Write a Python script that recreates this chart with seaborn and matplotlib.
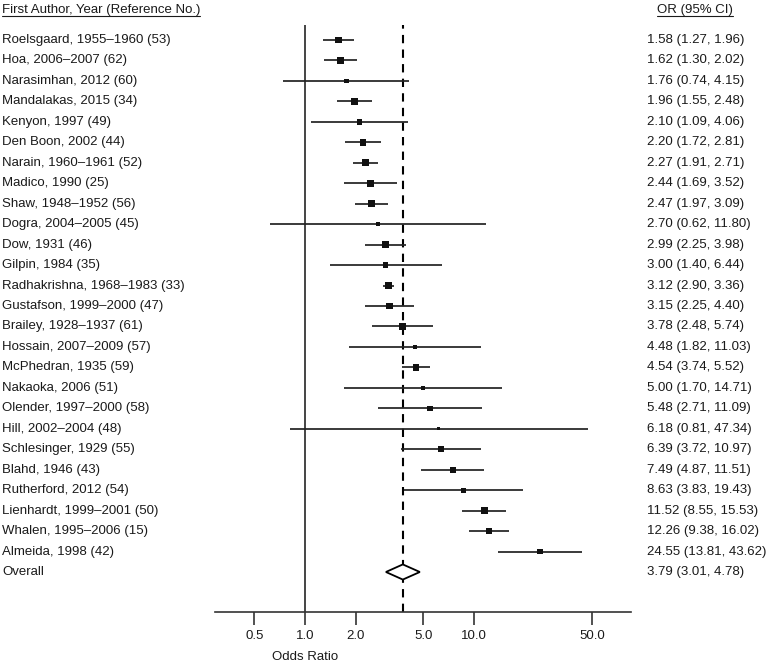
import numpy as np
import pandas as pd
import matplotlib
matplotlib.use("Agg")
import matplotlib.pyplot as plt
import matplotlib.transforms as mtransforms
from matplotlib.lines import Line2D
import seaborn as sns

# study labels, odds ratios and 95% CI bounds
studies = [
    "Roelsgaard, 1955\u20131960 (53)", "Hoa, 2006\u20132007 (62)", "Narasimhan, 2012 (60)",
    "Mandalakas, 2015 (34)", "Kenyon, 1997 (49)", "Den Boon, 2002 (44)",
    "Narain, 1960\u20131961 (52)", "Madico, 1990 (25)", "Shaw, 1948\u20131952 (56)",
    "Dogra, 2004\u20132005 (45)", "Dow, 1931 (46)", "Gilpin, 1984 (35)",
    "Radhakrishna, 1968\u20131983 (33)", "Gustafson, 1999\u20132000 (47)", "Brailey, 1928\u20131937 (61)",
    "Hossain, 2007\u20132009 (57)", "McPhedran, 1935 (59)", "Nakaoka, 2006 (51)",
    "Olender, 1997\u20132000 (58)", "Hill, 2002\u20132004 (48)", "Schlesinger, 1929 (55)",
    "Blahd, 1946 (43)", "Rutherford, 2012 (54)", "Lienhardt, 1999\u20132001 (50)",
    "Whalen, 1995\u20132006 (15)", "Almeida, 1998 (42)",
]
odds = [1.58, 1.62, 1.76, 1.96, 2.10, 2.20, 2.27, 2.44, 2.47, 2.70, 2.99, 3.00, 3.12,
        3.15, 3.78, 4.48, 4.54, 5.00, 5.48, 6.18, 6.39, 7.49, 8.63, 11.52, 12.26, 24.55]
lower = [1.27, 1.30, 0.74, 1.55, 1.09, 1.72, 1.91, 1.69, 1.97, 0.62, 2.25, 1.40, 2.90,
         2.25, 2.48, 1.82, 3.74, 1.70, 2.71, 0.81, 3.72, 4.87, 3.83, 8.55, 9.38, 13.81]
upper = [1.96, 2.02, 4.15, 2.48, 4.06, 2.81, 2.71, 3.52, 3.09, 11.80, 3.98, 6.44, 3.36,
         4.40, 5.74, 11.03, 5.52, 14.71, 11.09, 47.34, 10.97, 11.51, 19.43, 15.53, 16.02, 43.62]
# relative study weight
weights = [6, 6, 4, 6, 5, 6, 6, 6, 6, 3.2, 6, 5, 6.5, 6, 6, 4, 6, 4, 5, 3, 5, 5.5, 4.5, 6, 6, 5]

overall_label = "Overall"
overall = [3.79, 3.01, 4.78]
tick_values = [0.5, 1.0, 2.0, 5.0, 10.0, 50.0]

df = pd.DataFrame({"study": studies, "odds": odds, "lower": lower, "upper": upper, "w": weights})
df["row"] = np.arange(len(df))

sns.set_style("white")
plt.rcParams["font.family"] = ["Liberation Sans", "DejaVu Sans"]
plt.rcParams["font.size"] = 9.5
txt_color = "#1a1a1a"

W, H = 767, 665
fig = plt.figure(figsize=(W / 100, H / 100), dpi=100)
ax = fig.add_axes([215 / W, 1 - 612 / H, (631 - 215) / W, (612 - 25) / H])

# reference lines
ax.axvline(1.0, color="#444444", lw=1.4, zorder=1)
ax.axvline(overall[0], color="black", lw=1.5, ls=(0, (4, 3)), zorder=1)

# confidence intervals and squares
ax.hlines(df["row"], df["lower"], df["upper"], color="#222222", lw=1.25, zorder=2)
sns.scatterplot(data=df, x="odds", y="row", marker="s", s=(df["w"] * 0.8) ** 2,
                color="#111111", edgecolor="none", legend=False, ax=ax, zorder=3)

# pooled estimate diamond
orow = len(df)
half = 0.37
ax.fill([overall[1], overall[0], overall[2], overall[0]],
        [orow, orow - half, orow, orow + half],
        facecolor="white", edgecolor="black", lw=1.3, zorder=3)

ax.set_xscale("log")
ax.set_xlim(0.293, 85)
ax.set_ylim(orow + 1.955, -0.73)
ax.set_xticks(tick_values)
ax.set_xticklabels([f"{v:.1f}" for v in tick_values])
ax.xaxis.set_minor_locator(matplotlib.ticker.NullLocator())
ax.tick_params(axis="x", direction="out", length=9, width=1.2, color="#333333",
               pad=4, labelsize=9.5, labelcolor=txt_color, bottom=True)
ax.set_yticks([])
ax.set_xlabel("")
ax.set_ylabel("")
for side in ["top", "left", "right"]:
    ax.spines[side].set_visible(False)
ax.spines["bottom"].set_color("#333333")
ax.spines["bottom"].set_linewidth(1.2)
ax.set_facecolor("none")

# Odds Ratio label centred under 1.0
ax.text(1.0, 1 - 657 / H, "Odds Ratio",
        transform=mtransforms.blended_transform_factory(ax.transData, fig.transFigure),
        ha="center", va="center", fontsize=9.5, color=txt_color)

# left labels and right OR column
trans = mtransforms.blended_transform_factory(fig.transFigure, ax.transData)
for r, name, o, lo, hi in zip(df["row"], studies, odds, lower, upper):
    ax.text(2 / W, r, name, transform=trans, ha="left", va="center", color=txt_color, clip_on=False)
    ax.text(647 / W, r, f"{o:.2f} ({lo:.2f}, {hi:.2f})", transform=trans, ha="left",
            va="center", color=txt_color, clip_on=False)
ax.text(2 / W, orow, overall_label, transform=trans, ha="left", va="center", color=txt_color)
ax.text(647 / W, orow, f"{overall[0]:.2f} ({overall[1]:.2f}, {overall[2]:.2f})", transform=trans,
        ha="left", va="center", color=txt_color)

# underlined headers
h1 = fig.text(2 / W, 1 - 10 / H, "First Author, Year (Reference No.)", ha="left", va="center", color=txt_color)
h2 = fig.text(695 / W, 1 - 10 / H, "OR (95% CI)", ha="center", va="center", color=txt_color)
fig.canvas.draw()
renderer = fig.canvas.get_renderer()
for h in (h1, h2):
    bb = h.get_window_extent(renderer)
    y = (bb.y0 + 0.5) / fig.bbox.height
    fig.add_artist(Line2D([bb.x0 / fig.bbox.width, bb.x1 / fig.bbox.width], [y, y],
                          transform=fig.transFigure, color=txt_color, lw=0.8))

fig.savefig("out.png", dpi=100)
